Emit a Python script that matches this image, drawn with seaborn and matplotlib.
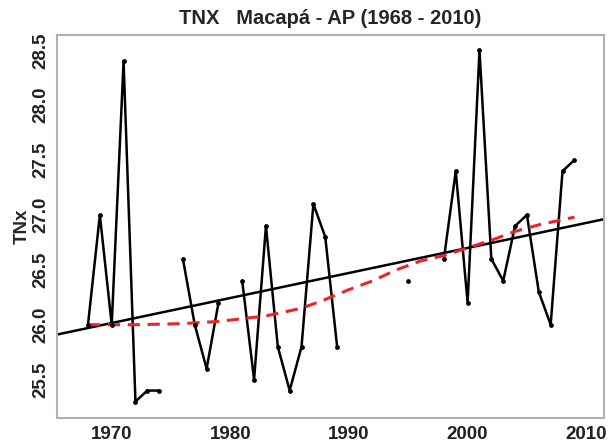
import numpy as np
import pandas as pd
import seaborn as sns
import matplotlib.pyplot as plt

# Dados (TNx anual, Macapá - AP)
anos = [1968, 1969, 1970, 1971, 1972, 1973, 1974, 1975, 1976, 1977, 1978, 1979,
        1980, 1981, 1982, 1983, 1984, 1985, 1986, 1987, 1988, 1989, 1990, 1991,
        1992, 1993, 1994, 1995, 1996, 1997, 1998, 1999, 2000, 2001, 2002, 2003,
        2004, 2005, 2006, 2007, 2008, 2009]
tnx = [26.0, 27.0, 26.0, 28.4, 25.3, 25.4, 25.4, np.nan, 26.6, 26.0, 25.6, 26.2,
       np.nan, 26.4, 25.5, 26.9, 25.8, 25.4, 25.8, 27.1, 26.8, 25.8, np.nan, np.nan,
       np.nan, np.nan, np.nan, 26.4, np.nan, np.nan, 26.6, 27.4, 26.2, 28.5, 26.6, 26.4,
       26.9, 27.0, 26.3, 26.0, 27.4, 27.5]

# Tendência linear (valor em 1968 e inclinação por ano)
tendencia_1968 = 25.97
tendencia_inclinacao = 0.0228

# Curva suavizada (lowess)
lowess_anos = [1968, 1972, 1976, 1979, 1983, 1986, 1988, 1990, 1992, 1994, 1996,
               1998, 2000, 2002, 2004, 2006, 2009]
lowess_vals = [26.0, 26.0, 26.01, 26.03, 26.08, 26.15, 26.23, 26.32, 26.4, 26.5,
               26.58, 26.63, 26.7, 26.77, 26.85, 26.91, 26.98]

df = pd.DataFrame({'ano': anos, 'tnx': tnx})
# trechos contínuos (a linha é quebrada nos anos sem dado)
df['trecho'] = df['tnx'].isna().cumsum()
df_ok = df.dropna()
df_low = pd.DataFrame({'ano': lowess_anos, 'valor': lowess_vals})

sns.set_style('white')
plt.rcParams['font.family'] = ['Liberation Sans', 'DejaVu Sans']

fig = plt.figure(figsize=(6.12, 4.43), dpi=100)
ax = fig.add_axes([0.0926, 0.0564, 0.8944, 0.8646])

sns.lineplot(data=df_ok, x='ano', y='tnx', units='trecho', estimator=None,
             color='black', linewidth=1.8, ax=ax)
sns.scatterplot(data=df_ok, x='ano', y='tnx', color='black', s=12,
                edgecolor='black', linewidth=0, ax=ax, zorder=3)
ax.axline((1968, tendencia_1968), slope=tendencia_inclinacao, color='black', linewidth=1.8)
sns.lineplot(data=df_low, x='ano', y='valor', color='#e8262a', linewidth=2.2,
             linestyle=(0, (4, 2.5)), ax=ax)

ax.set_xlim(1965.36, 2011.5)
ax.set_ylim(25.15, 28.64)
ax.set_xticks([1970, 1980, 1990, 2000, 2010])
ax.set_yticks([25.5, 26.0, 26.5, 27.0, 27.5, 28.0, 28.5])
ax.set_yticklabels([f'{v:.1f}' for v in [25.5, 26.0, 26.5, 27.0, 27.5, 28.0, 28.5]],
                   rotation=90, va='center')

for s in ax.spines.values():
    s.set_color('#b0b0b0')
    s.set_linewidth(1.5)
ax.tick_params(axis='both', direction='out', length=4, width=1, color='#a0a0a0',
               labelsize=13.5, pad=1.5)
for lab in ax.get_xticklabels() + ax.get_yticklabels():
    lab.set_fontweight('bold')
    lab.set_color('#222222')

ax.set_xlabel('')
ax.set_ylabel('TNx', fontsize=13.5, fontweight='bold', labelpad=1)
ax.set_title('TNX   Macapá - AP (1968 - 2010)', fontsize=14.5, fontweight='bold', pad=8)

plt.savefig('out.png', dpi=100)
